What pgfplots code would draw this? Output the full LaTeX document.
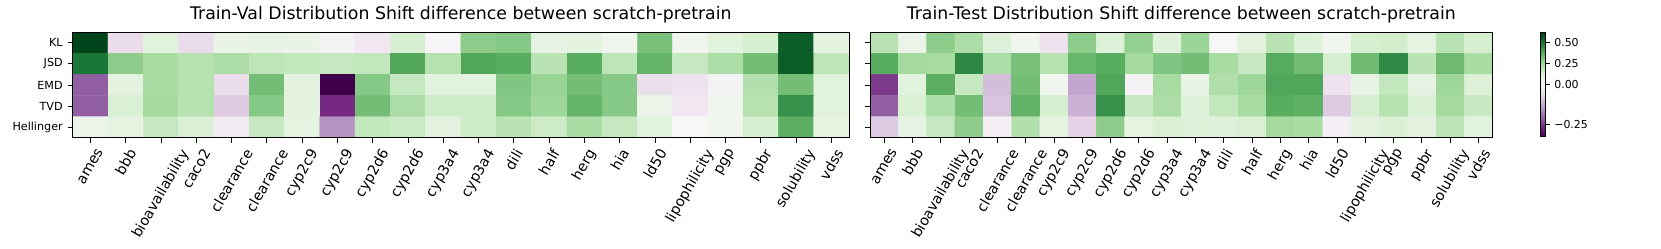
\documentclass[border=0pt]{standalone}
\usepackage{fontspec}
\setmainfont{DejaVu Sans}
\usepackage{graphicx}
\usepackage{pgfplots}
\pgfplotsset{compat=1.18}
\usepackage{pgfplotstable}

\pgfplotsset{colormap={PRGn}{rgb255=(64,0,75) rgb255=(118,42,131) rgb255=(153,112,171) rgb255=(194,165,207) rgb255=(231,212,232) rgb255=(247,247,247) rgb255=(217,240,211) rgb255=(166,219,160) rgb255=(90,174,97) rgb255=(27,120,55) rgb255=(0,68,27)}}

% rows: 0 KL, 1 JSD, 2 EMD, 3 TVD, 4 Hellinger ; columns: 22 tasks
\pgfplotstableread[row sep=\\]{
x y v\\
0 0 0.62\\ 1 0 -0.05\\ 2 0 0.09\\ 3 0 -0.05\\ 4 0 0.06\\ 5 0 0.065\\ 6 0 0.06\\ 7 0 -0.01\\ 8 0 -0.03\\ 9 0 0.13\\ 10 0 -0.005\\ 11 0 0.29\\ 12 0 0.30\\ 13 0 0.07\\ 14 0 0.08\\ 15 0 0.03\\ 16 0 0.32\\ 17 0 0.03\\ 18 0 0.09\\ 19 0 0.13\\ 20 0 0.56\\ 21 0 0.08\\
0 1 0.50\\ 1 1 0.29\\ 2 1 0.24\\ 3 1 0.21\\ 4 1 0.235\\ 5 1 0.19\\ 6 1 0.18\\ 7 1 0.17\\ 8 1 0.18\\ 9 1 0.39\\ 10 1 0.21\\ 11 1 0.39\\ 12 1 0.375\\ 13 1 0.20\\ 14 1 0.375\\ 15 1 0.19\\ 16 1 0.355\\ 17 1 0.17\\ 18 1 0.235\\ 19 1 0.33\\ 20 1 0.56\\ 21 1 0.19\\
0 2 -0.215\\ 1 2 0.08\\ 2 2 0.24\\ 3 2 0.21\\ 4 2 -0.05\\ 5 2 0.33\\ 6 2 0.08\\ 7 2 -0.33\\ 8 2 0.30\\ 9 2 0.17\\ 10 2 0.09\\ 11 2 0.09\\ 12 2 0.31\\ 13 2 0.27\\ 14 2 0.33\\ 15 2 0.30\\ 16 2 -0.045\\ 17 2 -0.04\\ 18 2 -0.01\\ 19 2 0.22\\ 20 2 0.33\\ 21 2 0.09\\
0 3 -0.215\\ 1 3 0.12\\ 2 3 0.25\\ 3 3 0.21\\ 4 3 -0.08\\ 5 3 0.30\\ 6 3 0.08\\ 7 3 -0.265\\ 8 3 0.33\\ 9 3 0.235\\ 10 3 0.15\\ 11 3 0.15\\ 12 3 0.30\\ 13 3 0.26\\ 14 3 0.355\\ 15 3 0.30\\ 16 3 0.045\\ 17 3 -0.03\\ 18 3 0.03\\ 19 3 0.21\\ 20 3 0.44\\ 21 3 0.09\\
0 4 0.045\\ 1 4 0.075\\ 2 4 0.17\\ 3 4 0.12\\ 4 4 -0.02\\ 5 4 0.17\\ 6 4 0.075\\ 7 4 -0.155\\ 8 4 0.18\\ 9 4 0.16\\ 10 4 0.08\\ 11 4 0.15\\ 12 4 0.20\\ 13 4 0.155\\ 14 4 0.24\\ 15 4 0.17\\ 16 4 0.09\\ 17 4 0.005\\ 18 4 0.03\\ 19 4 0.13\\ 20 4 0.37\\ 21 4 0.075\\
}\trainval

\pgfplotstableread[row sep=\\]{
x y v\\
0 0 0.20\\ 1 0 0.045\\ 2 0 0.29\\ 3 0 0.235\\ 4 0 0.10\\ 5 0 0.03\\ 6 0 -0.04\\ 7 0 0.29\\ 8 0 0.11\\ 9 0 0.28\\ 10 0 0.10\\ 11 0 0.265\\ 12 0 0.005\\ 13 0 0.085\\ 14 0 0.20\\ 15 0 0.105\\ 16 0 0.03\\ 17 0 0.13\\ 18 0 0.14\\ 19 0 0.075\\ 20 0 0.20\\ 21 0 0.13\\
0 1 0.375\\ 1 1 0.25\\ 2 1 0.245\\ 3 1 0.46\\ 4 1 0.235\\ 5 1 0.32\\ 6 1 0.21\\ 7 1 0.35\\ 8 1 0.375\\ 9 1 0.25\\ 10 1 0.31\\ 11 1 0.33\\ 12 1 0.24\\ 13 1 0.17\\ 14 1 0.38\\ 15 1 0.335\\ 16 1 0.13\\ 17 1 0.34\\ 18 1 0.455\\ 19 1 0.20\\ 20 1 0.34\\ 21 1 0.24\\
0 2 -0.25\\ 1 2 0.09\\ 2 2 0.37\\ 3 2 0.17\\ 4 2 -0.10\\ 5 2 0.33\\ 6 2 0.03\\ 7 2 -0.13\\ 8 2 0.39\\ 9 2 -0.01\\ 10 2 0.24\\ 11 2 0.06\\ 12 2 0.225\\ 13 2 0.26\\ 14 2 0.39\\ 15 2 0.39\\ 16 2 -0.04\\ 17 2 0.065\\ 18 2 0.18\\ 19 2 0.07\\ 20 2 0.26\\ 21 2 0.11\\
0 3 -0.215\\ 1 3 0.12\\ 2 3 0.23\\ 3 3 0.33\\ 4 3 -0.09\\ 5 3 0.36\\ 6 3 0.13\\ 7 3 -0.115\\ 8 3 0.44\\ 9 3 0.17\\ 10 3 0.235\\ 11 3 0.105\\ 12 3 0.18\\ 13 3 0.24\\ 14 3 0.375\\ 15 3 0.365\\ 16 3 -0.08\\ 17 3 0.13\\ 18 3 0.21\\ 19 3 0.12\\ 20 3 0.25\\ 21 3 0.165\\
0 4 -0.08\\ 1 4 0.07\\ 2 4 0.17\\ 3 4 0.29\\ 4 4 -0.015\\ 5 4 0.22\\ 6 4 0.075\\ 7 4 -0.07\\ 8 4 0.29\\ 9 4 0.075\\ 10 4 0.12\\ 11 4 0.11\\ 12 4 0.10\\ 13 4 0.125\\ 14 4 0.25\\ 15 4 0.24\\ 16 4 -0.015\\ 17 4 0.08\\ 18 4 0.12\\ 19 4 0.08\\ 20 4 0.195\\ 21 4 0.09\\
}\traintest

\newcommand{\rl}[1]{\rotatebox{60}{#1}}

\pgfplotsset{
  hm/.style={
    scale only axis, enlargelimits=false, axis on top,
    y dir=reverse, xmin=-0.5, xmax=21.5, ymin=-0.5, ymax=4.5,
    xtick={0,...,21}, ytick={0,...,4},
    xticklabels={\rl{ames},\rl{bbb},\rl{bioavailability},\rl{caco2},\rl{clearance},\rl{clearance},\rl{cyp2c9},\rl{cyp2c9},\rl{cyp2d6},\rl{cyp2d6},\rl{cyp3a4},\rl{cyp3a4},\rl{dili},\rl{half},\rl{herg},\rl{hia},\rl{ld50},\rl{lipophilicity},\rl{pgp},\rl{ppbr},\rl{solubility},\rl{vdss}},
    tick align=outside, tick pos=left,
    major tick length=4.9bp,
    every tick/.style={black, line width=0.8bp},
    axis line style={black, line width=0.8bp},
    colormap name=PRGn, point meta min=-1, point meta max=1,
    xticklabel style={font=\fontsize{14.3}{14}\selectfont, anchor=north, inner sep=0pt, yshift=-4.9bp},
    yticklabel style={font=\fontsize{11.2}{12}\selectfont, anchor=east, inner sep=0pt, xshift=-4.9bp},
    title style={font=\fontsize{17.4}{20}\selectfont, at={(0.5,1)}, anchor=base, yshift=6.5bp, inner sep=0pt},
  }
}

\begin{document}
\begin{tikzpicture}
\path[use as bounding box] (0,0) rectangle (1661bp,249bp);
\begin{axis}[hm, at={(72.7bp,111.4bp)}, anchor=south west, width=776.3bp, height=105.3bp,
  yticklabels={KL,JSD,EMD,TVD,Hellinger},
  title={Train-Val Distribution Shift difference between scratch-pretrain}]
\addplot[matrix plot*, mesh/cols=22, point meta={ifthenelse(\thisrow{v}>0,\thisrow{v}/0.62,\thisrow{v}/0.33)}] table[x=x,y=y] {\trainval};
\end{axis}
\begin{axis}[hm, at={(870bp,111.4bp)}, anchor=south west, width=622.6bp, height=105.3bp,
  yticklabels={},
  title={Train-Test Distribution Shift difference between scratch-pretrain},
  colorbar,
  colorbar style={
    at={(parent axis.north east)}, anchor=north west, xshift=39.7bp,
    scale only axis, width=4.4bp, height=104.4bp,
    xtick=\empty,
    ytick={-0.7576,0,0.4032,0.8065},
    yticklabels={−0.25,0.00,0.25,0.50},
    ytick pos=right, yticklabel pos=right,
    tick align=outside,
    major tick length=4.9bp,
    every tick/.style={black, line width=0.8bp},
    axis line style={black, line width=0.8bp},
    yticklabel style={font=\fontsize{11}{12}\selectfont, anchor=west, inner sep=0pt, xshift=4bp},
  }]
\addplot[matrix plot*, mesh/cols=22, point meta={ifthenelse(\thisrow{v}>0,\thisrow{v}/0.62,\thisrow{v}/0.33)}] table[x=x,y=y] {\traintest};
\end{axis}
\end{tikzpicture}
\end{document}
